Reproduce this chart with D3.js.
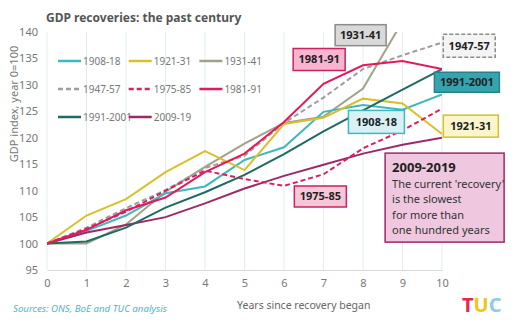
<!DOCTYPE html>
<html>
<head>
<meta charset="utf-8">
<script src="https://cdn.jsdelivr.net/npm/d3@7"></script>
<style>
  body { margin: 0; background: #fff; }
  svg text { font-family: "Noto Sans", "Open Sans", sans-serif; }
</style>
</head>
<body>
<script>
// data
var years = [0, 1, 2, 3, 4, 5, 6, 7, 8, 9, 10];
var yTicks = [95, 100, 105, 110, 115, 120, 125, 130, 135, 140];

var r1908 = [100, 102.4, 105.3, 109.5, 110.8, 115.8, 118.2, 124.9, 126.2, 125.3, 128.2];
var r1921 = [100, 105.3, 108.4, 113.5, 117.5, 113.9, 122.6, 123.8, 127.4, 126.5, 120.7];
var r1931 = [100, 100, 103.6, 109.8, 114.5, 118.9, 122.8, 124, 129.3, 142];
var r1947 = [100, 103, 106.7, 110.1, 114.3, 116.6, 122.8, 127.6, 133, 135.6, 138];
var r1975 = [100, 102.8, 106, 110, 113.8, 112.2, 110.9, 113.1, 118, 121.4, 125.5];
var r1981 = [100, 102.6, 106.3, 108.7, 113.5, 117, 123, 130.2, 133.7, 134.5, 133];
var r1991 = [100, 100.4, 103, 106.8, 109.7, 113, 116.9, 121.2, 125.2, 129.1, 133];
var r2009 = [100, 102.1, 103.5, 105, 107.6, 110.4, 112.8, 114.9, 117, 118.7, 120];

var seriesNames = ["1908-18", "1921-31", "1931-41", "1947-57", "1975-85", "1981-91", "1991-2001", "2009-19"];
var seriesValues = [r1908, r1921, r1931, r1947, r1975, r1981, r1991, r2009];
var seriesColors = ["#3DB8C0", "#D8C02C", "#A3A18A", "#9E9E9E", "#D8215E", "#E5195A", "#1E6B63", "#9C2A68"];
var seriesDashed = [false, false, false, true, true, false, false, false];

var margin = {top: 32, right: 74, bottom: 52, left: 47};
var width = 516 - margin.left - margin.right,
    height = 322 - margin.top - margin.bottom;

var svg = d3.select("body")
    .append("svg")
    .attr("width", 516)
    .attr("height", 322);

var g = svg.append("g")
    .attr("transform", "translate(" + margin.left + "," + margin.top + ")");

var x = d3.scaleLinear().domain([0, 10]).range([0, width]);
var y = d3.scaleLinear().domain([95, 140]).range([height, 0]);

// vertical gridlines
g.append("g")
    .selectAll("line")
    .data(years)
    .enter().append("line")
    .attr("x1", function(d) { return x(d); })
    .attr("x2", function(d) { return x(d); })
    .attr("y1", 0)
    .attr("y2", height)
    .style("stroke", "#E3EDF1")
    .style("stroke-width", 1);

// bottom axis
var xAxis = g.append("g")
    .attr("transform", "translate(0," + height + ")")
    .call(d3.axisBottom(x).tickValues(years).tickSize(0).tickPadding(9));
xAxis.select(".domain").style("stroke", "#D9D9D9");
xAxis.selectAll("text").style("font-size", "11px").style("fill", "#777");

var yAxis = g.append("g")
    .call(d3.axisLeft(y).tickValues(yTicks).tickSize(0).tickPadding(9));
yAxis.select(".domain").remove();
yAxis.selectAll("text").style("font-size", "11px").style("fill", "#777");

// axis titles
g.append("text")
    .attr("transform", "rotate(-90)")
    .attr("x", -72)
    .attr("y", 0 - margin.left + 18)
    .style("text-anchor", "middle")
    .style("font-size", "11px")
    .style("fill", "#777")
    .text("GDP index, year 0=100");

g.append("text")
    .attr("x", x(6.5))
    .attr("y", height + 39)
    .style("text-anchor", "middle")
    .style("font-size", "10.5px")
    .style("fill", "#666")
    .text("Years since recovery began");

// title
svg.append("text")
    .attr("x", 46)
    .attr("y", 22)
    .style("font-size", "12px")
    .style("font-weight", "bold")
    .style("fill", "#555")
    .text("GDP recoveries: the past century");

// lines
svg.append("clipPath").attr("id", "plotclip")
    .append("rect").attr("width", width).attr("height", height);

var line = d3.line()
    .x(function(d, i) { return x(years[i]); })
    .y(function(d) { return y(d); });

var order = [2, 3, 0, 1, 7, 6, 4, 5];
g.append("g")
    .attr("clip-path", "url(#plotclip)")
    .selectAll("path")
    .data(order)
    .enter().append("path")
    .attr("d", function(k) { return line(seriesValues[k]); })
    .style("fill", "none")
    .style("stroke", function(k) { return seriesColors[k]; })
    .style("stroke-width", 2)
    .style("stroke-dasharray", function(k) { return seriesDashed[k] ? "5,3" : null; });

// legend
var legend = svg.append("g").attr("transform", "translate(58,61)");
var lg = legend.selectAll("g")
    .data(seriesNames)
    .enter().append("g")
    .attr("transform", function(d, i) { return "translate(" + ((i % 3) * 70.7) + "," + (Math.floor(i / 3) * 28) + ")"; });
lg.append("line")
    .attr("x1", 0).attr("x2", 23)
    .style("stroke", function(d, i) { return seriesColors[i]; })
    .style("stroke-width", 2.5)
    .style("stroke-dasharray", function(d, i) { return seriesDashed[i] ? "5,3" : null; });
lg.append("text")
    .attr("x", 25)
    .attr("dy", "0.35em")
    .style("font-size", "10px")
    .style("fill", "#777")
    .text(function(d) { return d; });

// annotation boxes, placed in data units
var notes = [
    {t: "1931-41",   cx: 7.94,  cy: 139.4, w: 51, h: 21, fill: "#D9D9D9", stroke: "#8C8C8C", dash: false},
    {t: "1947-57",   cx: 10.69, cy: 137.4, w: 52, h: 23, fill: "#F4F4F4", stroke: "#8C8C8C", dash: true},
    {t: "1981-91",   cx: 6.89,  cy: 134.8, w: 52, h: 22, fill: "#F8B5CF", stroke: "#C7245F", dash: false},
    {t: "1991-2001", cx: 10.63, cy: 130.5, w: 65, h: 20, fill: "#35A4AF", stroke: "#2B8089", dash: false},
    {t: "1908-18",   cx: 8.34,  cy: 123.0, w: 56, h: 23, fill: "#D7F1F4", stroke: "#3DB8C0", dash: false},
    {t: "1921-31",   cx: 10.73, cy: 122.2, w: 55, h: 22, fill: "#FBF5CC", stroke: "#D8C02C", dash: false},
    {t: "1975-85",   cx: 6.92,  cy: 108.9, w: 52, h: 21, fill: "#F7C7D9", stroke: "#C7245F", dash: false}
];

var ng = g.selectAll(".note")
    .data(notes)
    .enter().append("g")
    .attr("class", "note")
    .attr("transform", function(d) { return "translate(" + x(d.cx) + "," + y(d.cy) + ")"; });
ng.append("rect")
    .attr("x", function(d) { return -d.w / 2; })
    .attr("y", function(d) { return -d.h / 2; })
    .attr("width", function(d) { return d.w; })
    .attr("height", function(d) { return d.h; })
    .style("fill", function(d) { return d.fill; })
    .style("stroke", function(d) { return d.stroke; })
    .style("stroke-width", 1.5)
    .style("stroke-dasharray", function(d) { return d.dash ? "4,2" : null; });
ng.append("text")
    .attr("text-anchor", "middle")
    .attr("dy", "0.36em")
    .style("font-size", "11px")
    .style("font-weight", "bold")
    .style("fill", "#222")
    .text(function(d) { return d.t; });

// big note for the current recovery
var big = g.append("g")
    .attr("transform", "translate(" + x(8.56) + "," + y(117.1) + ")");
big.append("rect")
    .attr("width", 119).attr("height", 89)
    .style("fill", "#EFC8DF")
    .style("stroke", "#9C2A68")
    .style("stroke-width", 1.5);
big.append("text")
    .attr("x", 7).attr("y", 19)
    .style("font-size", "13px")
    .style("font-weight", "bold")
    .style("fill", "#222")
    .text("2009-2019");
var bigLines = ["The current 'recovery'", "is the slowest", "for more than", "one hundred years"];
big.selectAll(".bl")
    .data(bigLines)
    .enter().append("text")
    .attr("class", "bl")
    .attr("x", 7)
    .attr("y", function(d, i) { return 35 + i * 15.3; })
    .style("font-size", "11px")
    .style("fill", "#333")
    .text(function(d) { return d; });

// source
svg.append("text")
    .attr("x", 13)
    .attr("y", 312)
    .style("font-size", "9.7px")
    .style("font-style", "italic")
    .style("fill", "#4DB6C6")
    .text("Sources: ONS, BoE and TUC analysis");

// logo
var logo = svg.append("text")
    .attr("x", 462)
    .attr("y", 312)
    .style("font-size", "20px")
    .style("font-weight", "bold");
logo.append("tspan").style("fill", "#E8264F").text("T");
logo.append("tspan").style("fill", "#F0C419").text("U");
logo.append("tspan").style("fill", "#8FCDE3").text("C");
</script>
</body>
</html>
